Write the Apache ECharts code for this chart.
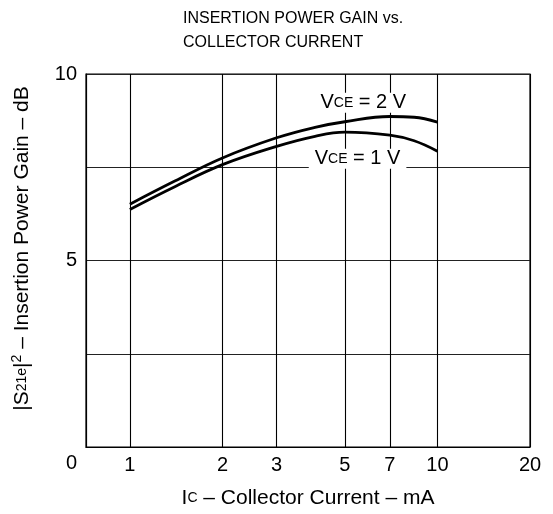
<!DOCTYPE html>
<html>
<head>
<meta charset="utf-8">
<script src="https://cdn.jsdelivr.net/npm/echarts@6/dist/echarts.min.js"></script>
<style>
  html, body { margin: 0; padding: 0; background: #fff; }
  #chart { width: 553px; height: 514px; }
</style>
</head>
<body>
<div id="chart"></div>
<script>
// collector current (mA) and gain curves
var currents = [1, 1.4, 2, 3, 4, 5, 7, 8.4, 10];
var gain2V = [6.51, 7.13, 7.75, 8.29, 8.57, 8.72, 8.86, 8.84, 8.71];
var gain1V = [6.37, 6.98, 7.57, 8.06, 8.33, 8.44, 8.36, 8.21, 7.93];
var xTicks = [1, 2, 3, 5, 7, 10, 20];
var yLabels = [0, 5, 10];

var FONT = 'Liberation Sans';

function pairs(xs, ys) {
  var out = [];
  for (var i = 0; i < xs.length; i++) out.push([xs[i], ys[i]]);
  return out;
}

var myChart = echarts.init(document.getElementById('chart'));

var labelRich = {
  v: { fontSize: 20, fontFamily: FONT, color: '#000' },
  s: { fontSize: 14, fontFamily: FONT, color: '#000' }
};
var nameRich = {
  v: { fontSize: 21, fontFamily: FONT, color: '#000' },
  s: { fontSize: 14, fontFamily: FONT, color: '#000' }
};

option = {
  animation: false,
  backgroundColor: '#fff',
  title: {
    text: 'INSERTION POWER GAIN vs.\nCOLLECTOR CURRENT',
    left: 178,
    top: 2,
    textStyle: { fontFamily: FONT, fontSize: 16, fontWeight: 'normal', color: '#000', lineHeight: 24 }
  },
  grid: {
    left: 86, right: 23, top: 74, bottom: 65,
    show: true, borderColor: '#000', borderWidth: 1.2
  },
  xAxis: {
    type: 'log',
    min: 0.72,
    max: 20,
    name: '{v|I}{s|C}{v| – Collector Current – mA}',
    nameLocation: 'middle',
    nameGap: 41,
    nameTextStyle: { rich: nameRich },
    axisLine: { show: true, lineStyle: { color: '#000', width: 1.2 } },
    axisTick: { show: false, customValues: xTicks },
    axisLabel: {
      customValues: xTicks,
      fontFamily: FONT, fontSize: 20, color: '#000', margin: 8
    },
    splitLine: { show: true, lineStyle: { color: '#000', width: 1.1 } }
  },
  yAxis: {
    type: 'value',
    min: 0,
    max: 10,
    interval: 2.5,
    name: '{v||S}{s|21e}{v||}{p|2}{v| – Insertion Power Gain – dB}',
    nameLocation: 'middle',
    nameGap: 52,
    nameTextStyle: {
      padding: [0, 0, 0, 24],
      rich: {
        v: { fontSize: 21, fontFamily: FONT, color: '#000', lineHeight: 24 },
        s: { fontSize: 14, fontFamily: FONT, color: '#000', lineHeight: 24 },
        p: { fontSize: 14, fontFamily: FONT, color: '#000', lineHeight: 24, verticalAlign: 'top', padding: [0, 0, 8, 0] }
      }
    },
    axisLine: { show: true, lineStyle: { color: '#000', width: 1.2 } },
    axisTick: { show: false },
    axisLabel: {
      fontFamily: FONT, fontSize: 20, color: '#000', margin: 9,
      formatter: function (v) {
        if (v === 0) return '{z|0}';
        return yLabels.indexOf(v) >= 0 ? String(v) : '';
      },
      rich: { z: { fontFamily: FONT, fontSize: 20, color: '#000', padding: [32, 0, 0, 0] } }
    },
    splitLine: { show: true, lineStyle: { color: '#222', width: 1.1 } }
  },
  series: [
    {
      name: 'VCE = 2 V',
      type: 'line',
      data: pairs(currents, gain2V),
      smooth: 0.4,
      symbol: 'none',
      lineStyle: { color: '#000', width: 2.8 },
      z: 3,
      markPoint: {
        symbol: 'rect', symbolSize: 1,
        itemStyle: { color: 'transparent' },
        label: {
          show: true, position: 'inside',
          formatter: '{v|V}{s|CE}{v| = 2 V}',
          backgroundColor: '#fff', padding: [0, 1],
          rich: labelRich
        },
        data: [{ coord: [5.74, 9.23] }]
      }
    },
    {
      name: 'VCE = 1 V',
      type: 'line',
      data: pairs(currents, gain1V),
      smooth: 0.4,
      symbol: 'none',
      lineStyle: { color: '#000', width: 2.8 },
      z: 3,
      markPoint: {
        symbol: 'rect', symbolSize: 1,
        itemStyle: { color: 'transparent' },
        label: {
          show: true, position: 'inside',
          formatter: '{v|V}{s|CE}{v| = 1 V}',
          backgroundColor: '#fff', padding: [0, 6],
          rich: labelRich
        },
        data: [{ coord: [5.5, 7.73] }]
      }
    }
  ]
};
myChart.setOption(option);
</script>
</body>
</html>
